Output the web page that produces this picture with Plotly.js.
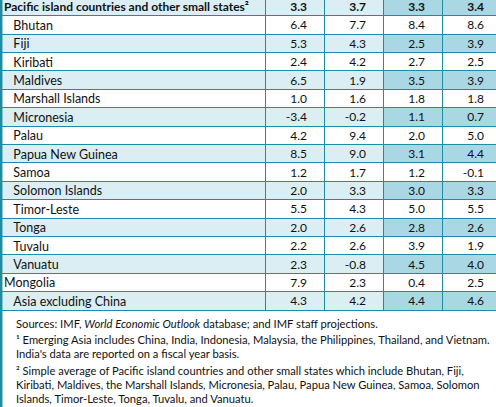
<!DOCTYPE html>
<html><head><meta charset="utf-8">
<script src="https://cdn.plot.ly/plotly-3.0.1.min.js"></script>
<style>
html,body{margin:0;padding:0;overflow:hidden;background:#fff;width:496px;height:407px;}
#chart{position:absolute;left:-4px;top:-6px;}
</style></head><body><div id="chart"></div>
<script>
// ---- data ----
const groupLabel = "Pacific island countries and other small states²";
const groupValues = [3.3, 3.7, 3.3, 3.4];

const rowLabels = ["Bhutan","Fiji","Kiribati","Maldives","Marshall Islands","Micronesia","Palau",
  "Papua New Guinea","Samoa","Solomon Islands","Timor-Leste","Tonga","Tuvalu","Vanuatu",
  "Mongolia","Asia excluding China"];
const rowIndented = [true,true,true,true,true,true,true,true,true,true,true,true,true,true,false,true];
const col1 = [6.4, 5.3, 2.4, 6.5, 1.0, -3.4, 4.2, 8.5, 1.2, 2.0, 5.5, 2.0, 2.2, 2.3, 7.9, 4.3];
const col2 = [7.7, 4.3, 4.2, 1.9, 1.6, -0.2, 9.4, 9.0, 1.7, 3.3, 4.3, 2.6, 2.6, -0.8, 2.3, 4.2];
const col3 = [8.4, 2.5, 2.7, 3.5, 1.8, 1.1, 2.0, 3.1, 1.2, 3.0, 5.0, 2.8, 3.9, 4.5, 0.4, 4.4];
const col4 = [8.6, 3.9, 2.5, 3.9, 1.8, 0.7, 5.0, 4.4, -0.1, 3.3, 5.5, 2.6, 1.9, 4.0, 2.5, 4.6];

const footnotes = [
  "Sources: IMF, <i>World Economic Outlook</i> database; and IMF staff projections.",
  "¹ Emerging Asia includes China, India, Indonesia, Malaysia, the Philippines, Thailand, and Vietnam.",
  "India's data are reported on a fiscal year basis.",
  "² Simple average of Pacific island countries and other small states which include Bhutan, Fiji,",
  "Kiribati, Maldives, the Marshall Islands, Micronesia, Palau, Papua New Guinea, Samoa, Solomon",
  "Islands, Timor-Leste, Tonga, Tuvalu, and Vanuatu."
];

// ---- styling ----
const TEAL = "#1f8ca3", LIGHT = "#daeef4", DARK = "#a9d8e4", WHITE = "#ffffff", CLEAR = "rgba(0,0,0,0)";
const FONT = "Lato";
const W = 505, H = 413, OX = 4, OY = 6;   // plot offset relative to the screen
const SHIFT = 3.3;                          // grid sits this many px below the text layer
const ROWH = 18.4;
const IND = "\u2002\u2005";
const PADR = "\u2002\u2005";
const ALIGN = ["left", "right", "right", "right", "right"];
const COLW = [269, 59, 59, 59, 59];

const nb = s => s.replace(/ /g, "\u00a0");
const fmt = v => v.toFixed(1) + PADR;

const labelsCol = rowLabels.map((s, i) => (rowIndented[i] ? IND : "") + nb(s));
const nRows = rowLabels.length;
const lightFill = Array.from({length: nRows}, (_, i) => i % 2 ? LIGHT : WHITE);
const darkFill  = Array.from({length: nRows}, (_, i) => i % 2 ? DARK : WHITE);

const headerVals = [[nb(groupLabel)], ...groupValues.map(v => [fmt(v)])];
const cellVals = [labelsCol, col1.map(fmt), col2.map(fmt), col3.map(fmt), col4.map(fmt)];
const blank = arr => arr.map(c => c.map(() => ""));

// grid layer: fills and borders
const grid = {
  type: "table",
  domain: {x: [0, 1], y: [1 - 330 / H, 1 - SHIFT / H]},
  columnwidth: COLW,
  header: {
    values: blank(headerVals), height: ROWH,
    fill: {color: [LIGHT, LIGHT, LIGHT, DARK, DARK]},
    line: {color: TEAL, width: 1}
  },
  cells: {
    values: blank(cellVals), height: ROWH,
    fill: {color: [lightFill, lightFill, lightFill, darkFill, darkFill]},
    line: {color: TEAL, width: 1}
  }
};

// text layer: same table, transparent, nudged up to centre the text in the rows
const text = {
  type: "table",
  domain: {x: [0, 1], y: [1 - (330 - SHIFT) / H, 1]},
  columnwidth: COLW,
  header: {
    values: headerVals, height: ROWH, align: ALIGN,
    fill: {color: CLEAR}, line: {color: CLEAR, width: 0},
    font: {family: FONT, size: 12, color: "#111", weight: "bold"}
  },
  cells: {
    values: cellVals, height: ROWH, align: ALIGN,
    fill: {color: CLEAR}, line: {color: CLEAR, width: 0},
    font: {family: FONT, size: [12.5, 12, 12, 12, 12], color: "#111"}
  }
};

const px = x => (x + OX) / W;
const py = y => 1 - (y + OY) / H;
const footY = [323, 339, 353.5, 370, 384, 398];

const annotations = footnotes.map((t, i) => ({
  text: t, xref: "paper", yref: "paper", x: px(13.5), y: py(footY[i]),
  xanchor: "left", yanchor: "middle", showarrow: false,
  font: {family: FONT, size: 11.2, color: "#111"}
}));

const layout = {
  width: W, height: H,
  margin: {l: 0, r: 0, t: 0, b: 0},
  paper_bgcolor: WHITE,
  showlegend: false,
  annotations: annotations,
  shapes: [{type: "line", xref: "paper", yref: "paper", x0: px(1.2), x1: px(1.2), y0: 0, y1: 1,
            line: {color: TEAL, width: 2.5}}]
};

Plotly.newPlot("chart", [grid, text], layout, {staticPlot: true, displayModeBar: false});
</script></body></html>
